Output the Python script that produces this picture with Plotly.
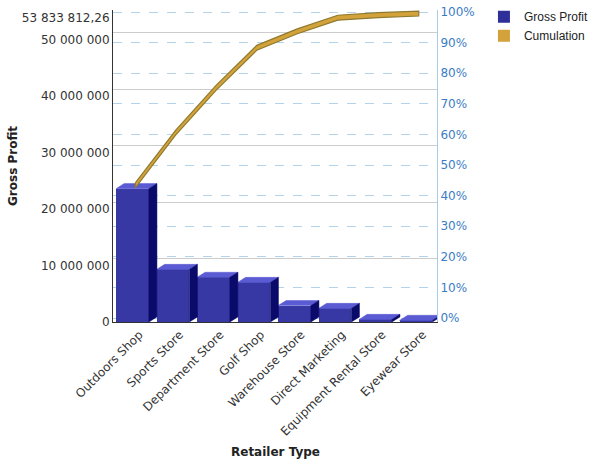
import plotly.graph_objects as go

categories = ["Outdoors Shop", "Sports Store", "Department Store", "Golf Shop",
              "Warehouse Store", "Direct Marketing", "Equipment Rental Store", "Eyewear Store"]
gross_profit = [23600000, 9300000, 7900000, 7000000, 2900000, 2400000, 450000, 283812.26]
total = sum(gross_profit)
cum_pct = []
running = 0
for v in gross_profit:
    running += v
    cum_pct.append(running / total * 100)

left_ticks = [0, 10000000, 20000000, 30000000, 40000000, 50000000, total]
def fmt(v):
    if abs(v - round(v)) > 1e-6:
        s = f"{v:,.2f}".replace(",", " ").replace(".", ",")
    else:
        s = f"{int(round(v)):,}".replace(",", " ")
    return s
left_text = [fmt(v) for v in left_ticks]
pct_ticks = list(range(0, 101, 10))
pct_text = [f"{p}%" for p in pct_ticks]

FONT = "DejaVu Sans"
FRONT = "#3838a4"
TOP = "#5b5bd3"
SIDE = "#0a0a6a"
GOLD = "#d4a23a"
GOLD_DARK = "#8e7a2e"

bar_w = 0.81
bar_shift = -0.02
dx = 0.2
dy = 900000

fig = go.Figure()

xs = list(range(len(categories)))
fig.add_trace(go.Bar(x=[i + bar_shift for i in xs], y=gross_profit, width=bar_w,
                     marker=dict(color=FRONT, line=dict(width=0)),
                     showlegend=False, hoverinfo="skip", yaxis="y"))

# top faces & side faces computed from data
tx, ty, sx, sy = [], [], [], []
for i, v in zip(xs, gross_profit):
    x0 = i + bar_shift - bar_w / 2
    x1 = i + bar_shift + bar_w / 2
    tx += [x0, x1, x1 + dx, x0 + dx, x0, None]
    ty += [v, v, v + dy, v + dy, v, None]
    sx += [x1, x1, x1 + dx, x1 + dx, x1, None]
    sy += [0, v, v + dy, dy, 0, None]
fig.add_trace(go.Scatter(x=tx, y=ty, fill="toself", fillcolor=TOP, mode="lines",
                         line=dict(width=0.5, color=TOP), showlegend=False,
                         hoverinfo="skip", yaxis="y"))
fig.add_trace(go.Scatter(x=sx, y=sy, fill="toself", fillcolor=SIDE, mode="lines",
                         line=dict(width=0.5, color=SIDE), showlegend=False,
                         hoverinfo="skip", yaxis="y"))

# cumulation ribbon
lx = [i + 0.05 for i in xs]
upper = [p + 0.3 for p in cum_pct]
lower = [p - 1.3 for p in cum_pct]
rx = lx + lx[::-1] + [lx[0]]
ry = upper + lower[::-1] + [upper[0]]
fig.add_trace(go.Scatter(x=rx, y=ry, fill="toself", fillcolor=GOLD, mode="lines",
                         line=dict(width=1.2, color=GOLD_DARK), showlegend=False,
                         hoverinfo="skip", yaxis="y2"))

# legend entries
fig.add_trace(go.Scatter(x=[None], y=[None], mode="markers", name="Gross Profit",
                         marker=dict(symbol="square", size=12, color="#2f2f9a")))
fig.add_trace(go.Scatter(x=[None], y=[None], mode="markers", name="Cumulation",
                         marker=dict(symbol="square", size=12, color=GOLD)))

top_px, bot_px = 10, 322
ppm = 5.65e-6  # px per unit
left_max = (bot_px - top_px) / ppm
pp = 3.06
r_lo = -(bot_px - 318) / pp
r_hi = 100 + (12 - top_px) / pp
wall = 7 / ppm

fig.update_layout(
    width=596, height=462,
    margin=dict(l=113, r=596 - 437, t=top_px, b=462 - bot_px, autoexpand=False),
    paper_bgcolor="white", plot_bgcolor="white",
    font=dict(family=FONT, size=12, color="#333333"),
    bargap=0,
    legend=dict(xref="container", yref="container", x=0.812, y=0.995,
                xanchor="left", yanchor="top",
                font=dict(family="Liberation Sans", size=12, color="#222222"),
                tracegroupgap=0, itemwidth=30, bgcolor="rgba(0,0,0,0)"),
    xaxis=dict(range=[-0.5, 7.5], tickmode="array", tickvals=[i + 0.15 for i in xs],
               ticktext=categories, tickangle=-45, showgrid=False, zeroline=False,
               showline=True, linecolor="#333333", linewidth=1, ticks="",
               automargin=False,
               tickfont=dict(size=12, color="#333333")),
    yaxis=dict(range=[0, left_max], tickmode="array", tickvals=left_ticks,
               ticktext=left_text, showgrid=False, zeroline=False, showline=True,
               linecolor="#333333", linewidth=1, ticks="", automargin=False,
               tickfont=dict(size=12, color="#333333"),
               title=dict(text="<b>Gross Profit</b>", font=dict(size=12, color="#222222"),
                          standoff=1)),
    yaxis2=dict(range=[r_lo, r_hi], overlaying="y", side="right", tickmode="array",
                tickvals=pct_ticks, ticktext=pct_text, showgrid=True, gridcolor="#b4d2ea",
                griddash="dash", gridwidth=1, zeroline=False, showline=True,
                linecolor="#a8cce8", ticks="", automargin=False,
                tickfont=dict(size=12, color="#3b7dc4")),
    yaxis3=dict(range=[-wall, left_max - wall], overlaying="y", tickmode="array",
                tickvals=[10000000, 20000000, 30000000, 40000000, 50000000],
                showticklabels=False, showgrid=True, gridcolor="#cccccc", gridwidth=1,
                zeroline=False, showline=False),
    annotations=[dict(text="<b>Retailer Type</b>", xref="paper", yref="paper",
                      x=0.5, y=(bot_px - 452) / (bot_px - top_px),
                      xanchor="center", yanchor="middle",
                      showarrow=False, font=dict(size=12, color="#222222"))],
)
# dummy trace to activate yaxis3
fig.add_trace(go.Scatter(x=[None], y=[None], yaxis="y3", showlegend=False, hoverinfo="skip"))

fig.write_html("out.html")
